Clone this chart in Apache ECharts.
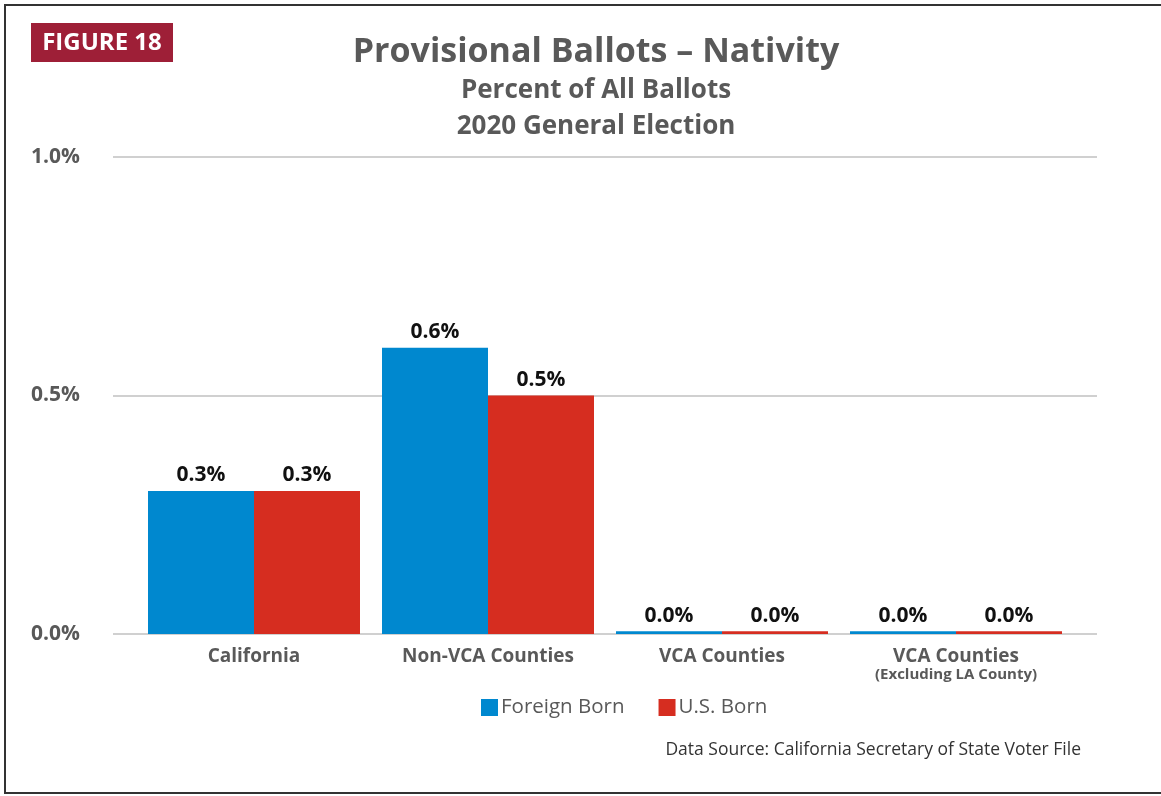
<!DOCTYPE html>
<html>
<head>
<meta charset="utf-8">
<script src="https://cdn.jsdelivr.net/npm/echarts@6/dist/echarts.min.js"></script>
<style>
  html, body { margin: 0; padding: 0; background: #fff; }
  #chart { width: 1161px; height: 796px; }
</style>
</head>
<body>
<div id="chart"></div>
<script>
// data (percent of all ballots)
const categories = ["California", "Non-VCA Counties", "VCA Counties", "VCA Counties\n{sub|(Excluding LA County)}"];
const foreignBorn = [0.3, 0.6, 0.006, 0.006];
const usBorn = [0.3, 0.5, 0.006, 0.006];
const yTicks = [0, 0.5, 1.0];

const FONT = "Open Sans";
const GRAY = "#595959";
const BLUE = "#0088cf";
const RED = "#d62d20";

const chart = echarts.init(document.getElementById("chart"));

const barLabel = {
  show: true,
  position: "top",
  distance: 5,
  fontFamily: FONT,
  fontWeight: "bold",
  fontSize: 21,
  color: "#111",
  formatter: (p) => p.value.toFixed(1) + "%",
};

const option = {
  animation: false,
  textStyle: { fontFamily: FONT },
  graphic: [
    {
      type: "rect",
      shape: { x: 5, y: 5, width: 1180, height: 788 },
      style: { fill: "none", stroke: "#333", lineWidth: 2 },
      silent: true,
    },
    {
      type: "rect",
      shape: { x: 31, y: 23, width: 142, height: 39 },
      style: { fill: "#9e1f37" },
    },
    {
      type: "text",
      x: 102,
      y: 43,
      style: {
        text: "FIGURE 18",
        fill: "#fff",
        font: "bold 24px 'Open Sans'",
        align: "center",
        verticalAlign: "middle",
      },
    },
    {
      type: "text",
      right: 80,
      top: 741,
      style: {
        text: "Data Source: California Secretary of State Voter File",
        fill: "#333",
        font: "17.5px 'Open Sans'",
      },
    },
  ],
  title: {
    text: "Provisional Ballots – Nativity",
    subtext: "Percent of All Ballots\n2020 General Election",
    left: 591,
    textAlign: "center",
    top: 30,
    itemGap: 4,
    textStyle: { fontFamily: FONT, fontWeight: "bold", fontSize: 34, color: GRAY },
    subtextStyle: { fontFamily: FONT, fontWeight: "bold", fontSize: 26, color: GRAY, lineHeight: 36 },
  },
  legend: {
    data: ["Foreign Born", "U.S. Born"],
    left: 476,
    top: 692,
    itemWidth: 17,
    itemHeight: 17,
    itemGap: 34,
    icon: "rect",
    textStyle: { fontFamily: FONT, fontSize: 20.5, color: GRAY, padding: [0, 0, 0, -2] },
  },
  grid: [
    { left: 137, right: 1161 - 1073, top: 157, bottom: 796 - 634 },
    { left: 113, right: 1161 - 1097, top: 157, bottom: 796 - 634 },
  ],
  xAxis: [
    {
      type: "category",
      gridIndex: 0,
      data: categories,
      axisLine: { show: false },
      axisTick: { show: false },
      axisLabel: {
        interval: 0,
        margin: 13,
        fontFamily: FONT,
        fontWeight: "bold",
        fontSize: 19,
        color: GRAY,
        lineHeight: 20,
        rich: {
          sub: { fontFamily: FONT, fontWeight: "bold", fontSize: 15, color: GRAY, lineHeight: 15 },
        },
      },
    },
    { type: "category", gridIndex: 1, data: [""], show: false },
  ],
  yAxis: [
    {
      type: "value",
      gridIndex: 0,
      min: 0,
      max: 1,
      interval: 0.5,
      show: false,
    },
    {
      type: "value",
      gridIndex: 1,
      min: yTicks[0],
      max: yTicks[yTicks.length - 1],
      interval: 0.5,
      axisLine: { show: false },
      axisTick: { show: false },
      splitLine: { lineStyle: { color: "#d0d0d0", width: 2 } },
      axisLabel: {
        margin: 33,
        fontFamily: FONT,
        fontWeight: "bold",
        fontSize: 21,
        color: GRAY,
        formatter: (v) => v.toFixed(1) + "%",
      },
    },
  ],
  series: [
    {
      name: "Foreign Born",
      type: "bar",
      xAxisIndex: 0,
      yAxisIndex: 0,
      data: foreignBorn,
      barWidth: 106,
      barGap: "0%",
      itemStyle: { color: BLUE },
      label: barLabel,
    },
    {
      name: "U.S. Born",
      type: "bar",
      xAxisIndex: 0,
      yAxisIndex: 0,
      data: usBorn,
      barWidth: 106,
      barGap: "0%",
      itemStyle: { color: RED },
      label: barLabel,
    },
  ],
};

chart.setOption(option);
</script>
</body>
</html>
